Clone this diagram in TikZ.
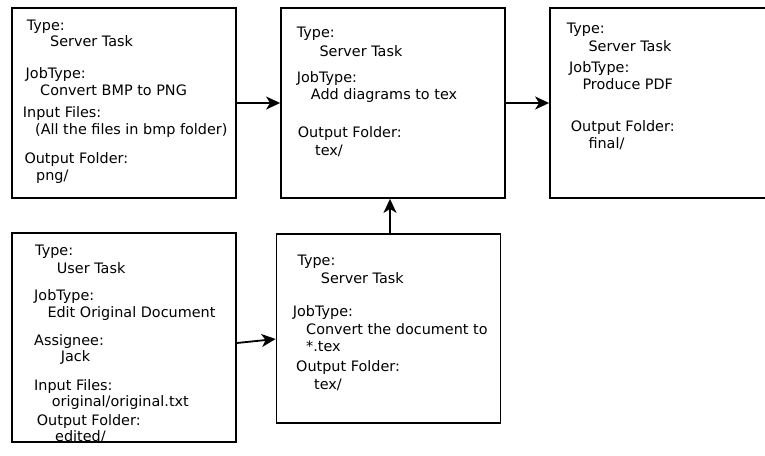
\documentclass[tikz,border=0pt]{standalone}
\usepackage{fontspec}
\setmainfont{DejaVu Sans}
\usetikzlibrary{arrows.meta}
\tikzset{
  x=1pt, y=-1pt,
  taskbox/.style={draw=black, line width=1.8pt, rectangle, inner sep=0pt, fill=white},
  lbl/.style={anchor=base west, inner sep=0pt, font=\fontsize{14.4}{17}\selectfont},
  flow/.style={line width=1.8pt, -{Stealth[length=14pt, width=13pt, inset=4pt]}},
}
\begin{document}
\begin{tikzpicture}
\useasboundingbox (0,0) rectangle (765,455);
\clip (0,0) rectangle (765,455);

% task boxes
\node[taskbox, minimum width=224pt, minimum height=190pt] (b1) at (124,103) {};
\node[taskbox, minimum width=224pt, minimum height=190pt] (b2) at (393,103) {};
\node[taskbox, minimum width=240pt, minimum height=190pt] (b3) at (670,103) {};
\node[taskbox, minimum width=224pt, minimum height=189pt] (b4) at (388.5,328.5) {};
\node[taskbox, minimum width=224pt, minimum height=209pt] (b5) at (124,337.5) {};

% BMP to PNG conversion
\node[lbl] (b1t)  at (26.7,30)    {Type:};
\node[lbl] (b1tv) at (50,46.7)    {Server Task};
\node[lbl] (b1j)  at (25.5,78.3)  {JobType:};
\node[lbl] (b1jv) at (40,95.7)    {Convert BMP to PNG};
\node[lbl] (b1i)  at (22.7,117.5) {Input Files:};
\node[lbl] (b1iv) at (35,134.5)   {(All the files in bmp folder)};
\node[lbl] (b1o)  at (24.3,163.5) {Output Folder:};
\node[lbl] (b1ov) at (36,180.5)   {png/};

% diagrams into tex
\node[lbl] (b2t)  at (296.7,37.7) {Type:};
\node[lbl] (b2tv) at (319.3,56)   {Server Task};
\node[lbl] (b2j)  at (296.7,82.5) {JobType:};
\node[lbl] (b2jv) at (310.7,99.3) {Add diagrams to tex};
\node[lbl] (b2o)  at (297.7,137.2){Output Folder:};
\node[lbl] (b2ov) at (315,155)    {tex/};

% PDF production
\node[lbl] (b3t)  at (566.7,33.3) {Type:};
\node[lbl] (b3tv) at (588.3,51.7) {Server Task};
\node[lbl] (b3j)  at (569,72.7)   {JobType:};
\node[lbl] (b3jv) at (582.3,89.3) {Produce PDF};
\node[lbl] (b3o)  at (570.7,131)  {Output Folder:};
\node[lbl] (b3ov) at (588.3,148.3){final/};

% document to tex conversion
\node[lbl] (b4t)  at (297.3,265.7){Type:};
\node[lbl] (b4tv) at (320.7,283.3){Server Task};
\node[lbl] (b4j)  at (292.7,316.7){JobType:};
\node[lbl] (b4jv) at (306,334)    {Convert the document to};
\node[lbl] (b4jw) at (306,351.7)  {*.tex};
\node[lbl] (b4o)  at (296,371)    {Output Folder:};
\node[lbl] (b4ov) at (314,389.3)  {tex/};

% manual editing
\node[lbl] (b5t)  at (35,255.7)   {Type:};
\node[lbl] (b5tv) at (56.7,273)   {User Task};
\node[lbl] (b5j)  at (34,300)     {JobType:};
\node[lbl] (b5jv) at (47.3,317.3) {Edit Original Document};
\node[lbl] (b5a)  at (34,345)     {Assignee:};
\node[lbl] (b5av) at (60.7,361.7) {Jack};
\node[lbl] (b5i)  at (34,390)     {Input Files:};
\node[lbl] (b5iv) at (51.7,406.7) {original/original.txt};
\node[lbl] (b5o)  at (36.7,425)   {Output Folder:};
\node[lbl] (b5ov) at (55,441)     {edited/};

% flow between tasks
\draw[flow] (b1.east) -- (b2.west);
\draw[flow] (b2.east) -- (b3.west);
\draw[flow] (b4.north -| 390,0) -- (b2.south -| 390,0);
\draw[flow] (b5.east |- 0,343) -- (b4.west |- 0,339);
\end{tikzpicture}
\end{document}
